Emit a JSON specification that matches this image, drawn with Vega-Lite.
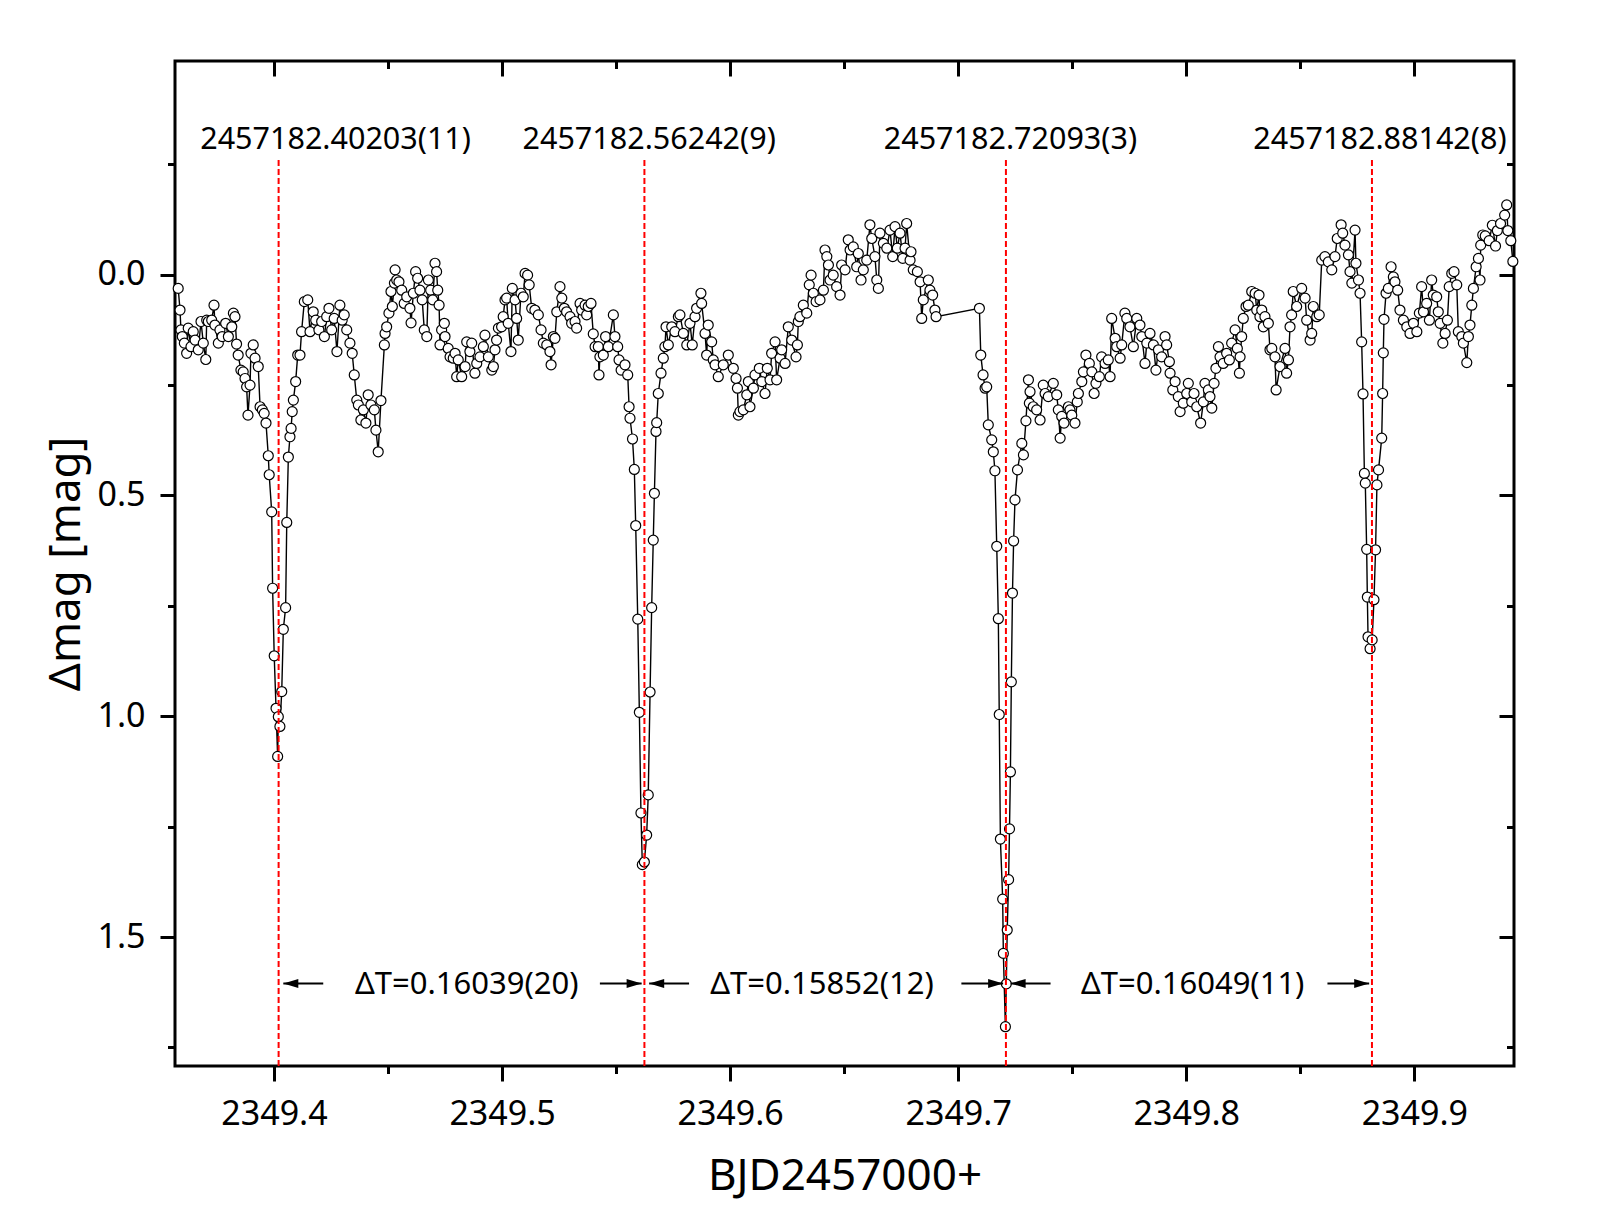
{
"$schema":"https://vega.github.io/schema/vega-lite/v6.json",
"width":1339,"height":1005,
"autosize":"none",
"padding":{"left":175,"top":61,"right":94,"bottom":164},
"background":"white",
"config":{"view":{"stroke":"black","strokeWidth":3},"font":"Noto Sans",
 "axis":{"labelFont":"Noto Sans","titleFont":"Noto Sans","labelColor":"black","titleColor":"black","tickColor":"black","tickWidth":3,"domain":false,"grid":false,"titleFontWeight":"normal","labelFontSize":34,"titleFontSize":44,"labelFlush":false,"labelOverlap":false}},
"resolve":{"axis":{"x":"independent","y":"independent"}},
"datasets":{
"lc":[
{"t":2349.358,"m":0.031},{"t":2349.3588,"m":0.08},{"t":2349.3592,"m":0.125},{"t":2349.3598,"m":0.14},{"t":2349.3607,"m":0.155},{"t":2349.3617,"m":0.178},{"t":2349.3624,"m":0.121},{"t":2349.3636,"m":0.163},{"t":2349.3646,"m":0.129},{"t":2349.3654,"m":0.148},
{"t":2349.3668,"m":0.17},{"t":2349.368,"m":0.106},{"t":2349.369,"m":0.155},{"t":2349.3701,"m":0.192},{"t":2349.3705,"m":0.103},{"t":2349.3712,"m":0.106},{"t":2349.3727,"m":0.103},{"t":2349.3737,"m":0.069},{"t":2349.3741,"m":0.114},{"t":2349.3756,"m":0.155},
{"t":2349.3763,"m":0.125},{"t":2349.3773,"m":0.14},{"t":2349.3788,"m":0.11},{"t":2349.38,"m":0.14},{"t":2349.3815,"m":0.118},{"t":2349.3822,"m":0.087},{"t":2349.3829,"m":0.095},{"t":2349.3836,"m":0.157},{"t":2349.3843,"m":0.182},{"t":2349.3855,"m":0.216},
{"t":2349.3865,"m":0.22},{"t":2349.3873,"m":0.235},{"t":2349.388,"m":0.254},{"t":2349.3886,"m":0.318},{"t":2349.3895,"m":0.25},{"t":2349.3899,"m":0.178},{"t":2349.3909,"m":0.159},{"t":2349.3917,"m":0.189},{"t":2349.3931,"m":0.208},{"t":2349.3939,"m":0.299},
{"t":2349.3949,"m":0.306},{"t":2349.3957,"m":0.314},{"t":2349.3965,"m":0.336},{"t":2349.3975,"m":0.41},{"t":2349.3979,"m":0.453},{"t":2349.399,"m":0.537},{"t":2349.3994,"m":0.71},{"t":2349.4001,"m":0.863},{"t":2349.4009,"m":0.982},{"t":2349.4016,"m":1.091},
{"t":2349.4019,"m":1.001},{"t":2349.4026,"m":1.023},{"t":2349.4034,"m":0.944},{"t":2349.4041,"m":0.803},{"t":2349.4051,"m":0.754},{"t":2349.4056,"m":0.561},{"t":2349.4063,"m":0.413},{"t":2349.407,"m":0.367},{"t":2349.4075,"m":0.348},{"t":2349.408,"m":0.31},
{"t":2349.4085,"m":0.284},{"t":2349.4095,"m":0.242},{"t":2349.4104,"m":0.182},{"t":2349.4114,"m":0.182},{"t":2349.4121,"m":0.129},{"t":2349.4133,"m":0.061},{"t":2349.4148,"m":0.057},{"t":2349.4158,"m":0.129},{"t":2349.4172,"m":0.084},{"t":2349.4183,"m":0.103},
{"t":2349.4197,"m":0.125},{"t":2349.4209,"m":0.106},{"t":2349.4221,"m":0.14},{"t":2349.4231,"m":0.095},{"t":2349.4241,"m":0.076},{"t":2349.4253,"m":0.125},{"t":2349.4264,"m":0.099},{"t":2349.4276,"m":0.174},{"t":2349.4289,"m":0.069},{"t":2349.4299,"m":0.103},
{"t":2349.4308,"m":0.091},{"t":2349.4319,"m":0.125},{"t":2349.4333,"m":0.155},{"t":2349.4343,"m":0.178},{"t":2349.4352,"m":0.227},{"t":2349.4363,"m":0.284},{"t":2349.437,"m":0.295},{"t":2349.4381,"m":0.329},{"t":2349.4392,"m":0.306},{"t":2349.4403,"m":0.336},
{"t":2349.4413,"m":0.272},{"t":2349.4425,"m":0.295},{"t":2349.444,"m":0.306},{"t":2349.4447,"m":0.352},{"t":2349.4457,"m":0.401},{"t":2349.4469,"m":0.285},{"t":2349.4484,"m":0.159},{"t":2349.4487,"m":0.133},{"t":2349.4494,"m":0.118},{"t":2349.4504,"m":0.087},
{"t":2349.4513,"m":0.038},{"t":2349.4519,"m":0.072},{"t":2349.4528,"m":0.019},{"t":2349.4531,"m":-0.011},{"t":2349.4538,"m":0.012},{"t":2349.4548,"m":0.016},{"t":2349.456,"m":0.035},{"t":2349.4571,"m":0.065},{"t":2349.4582,"m":0.05},{"t":2349.4596,"m":0.076},
{"t":2349.4601,"m":0.109},{"t":2349.4611,"m":0.042},{"t":2349.4621,"m":-0.007},{"t":2349.463,"m":0.008},{"t":2349.464,"m":0.035},{"t":2349.465,"m":0.057},{"t":2349.4659,"m":0.125},{"t":2349.467,"m":0.14},{"t":2349.4677,"m":0.012},{"t":2349.4687,"m":0.035},
{"t":2349.4696,"m":0.057},{"t":2349.4706,"m":-0.026},{"t":2349.4713,"m":-0.007},{"t":2349.4718,"m":0.035},{"t":2349.4724,"m":0.069},{"t":2349.4728,"m":0.159},{"t":2349.4735,"m":0.125},{"t":2349.4747,"m":0.11},{"t":2349.475,"m":0.14},{"t":2349.4764,"m":0.167},
{"t":2349.4772,"m":0.186},{"t":2349.4786,"m":0.189},{"t":2349.4794,"m":0.178},{"t":2349.4801,"m":0.231},{"t":2349.4808,"m":0.193},{"t":2349.4823,"m":0.231},{"t":2349.4838,"m":0.208},{"t":2349.4845,"m":0.152},{"t":2349.4859,"m":0.174},{"t":2349.4867,"m":0.155},
{"t":2349.4881,"m":0.223},{"t":2349.4889,"m":0.201},{"t":2349.4903,"m":0.186},{"t":2349.4918,"m":0.163},{"t":2349.4925,"m":0.137},{"t":2349.494,"m":0.186},{"t":2349.4955,"m":0.216},{"t":2349.4962,"m":0.208},{"t":2349.4969,"m":0.17},{"t":2349.4976,"m":0.148},
{"t":2349.4984,"m":0.121},{"t":2349.4998,"m":0.118},{"t":2349.5005,"m":0.095},{"t":2349.5013,"m":0.057},{"t":2349.502,"m":0.053},{"t":2349.5027,"m":0.11},{"t":2349.5039,"m":0.174},{"t":2349.5045,"m":0.031},{"t":2349.5057,"m":0.057},{"t":2349.5064,"m":0.099},
{"t":2349.5071,"m":0.148},{"t":2349.5083,"m":0.042},{"t":2349.5093,"m":0.05},{"t":2349.5101,"m":-0.003},{"t":2349.5112,"m":0.001},{"t":2349.5119,"m":0.023},{"t":2349.513,"m":0.076},{"t":2349.5144,"m":0.08},{"t":2349.5159,"m":0.091},{"t":2349.5171,"m":0.125},
{"t":2349.5181,"m":0.155},{"t":2349.5196,"m":0.159},{"t":2349.521,"m":0.174},{"t":2349.5215,"m":0.204},{"t":2349.5225,"m":0.14},{"t":2349.5232,"m":0.144},{"t":2349.524,"m":0.084},{"t":2349.5254,"m":0.027},{"t":2349.5262,"m":0.053},{"t":2349.5273,"m":0.076},
{"t":2349.5283,"m":0.084},{"t":2349.5298,"m":0.095},{"t":2349.5305,"m":0.11},{"t":2349.532,"m":0.106},{"t":2349.5327,"m":0.121},{"t":2349.5342,"m":0.065},{"t":2349.5349,"m":0.08},{"t":2349.5364,"m":0.069},{"t":2349.5371,"m":0.091},{"t":2349.5378,"m":0.072},
{"t":2349.539,"m":0.065},{"t":2349.54,"m":0.134},{"t":2349.5408,"m":0.163},{"t":2349.5422,"m":0.163},{"t":2349.5425,"m":0.227},{"t":2349.5429,"m":0.186},{"t":2349.5444,"m":0.182},{"t":2349.5454,"m":0.14},{"t":2349.5466,"m":0.163},{"t":2349.5488,"m":0.091},
{"t":2349.5495,"m":0.14},{"t":2349.5507,"m":0.163},{"t":2349.5513,"m":0.193},{"t":2349.5522,"m":0.216},{"t":2349.5539,"m":0.204},{"t":2349.5551,"m":0.227},{"t":2349.5557,"m":0.299},{"t":2349.5561,"m":0.325},{"t":2349.5572,"m":0.372},{"t":2349.558,"m":0.441},
{"t":2349.5586,"m":0.568},{"t":2349.5595,"m":0.78},{"t":2349.5602,"m":0.991},{"t":2349.5609,"m":1.219},{"t":2349.5615,"m":1.336},{"t":2349.5624,"m":1.33},{"t":2349.5634,"m":1.269},{"t":2349.5641,"m":1.178},{"t":2349.5649,"m":0.945},{"t":2349.5656,"m":0.754},
{"t":2349.5663,"m":0.601},{"t":2349.5668,"m":0.495},{"t":2349.5675,"m":0.355},{"t":2349.5678,"m":0.335},{"t":2349.5685,"m":0.269},{"t":2349.5697,"m":0.223},{"t":2349.5707,"m":0.189},{"t":2349.5714,"m":0.163},{"t":2349.5719,"m":0.118},{"t":2349.5729,"m":0.159},
{"t":2349.5744,"m":0.118},{"t":2349.5758,"m":0.129},{"t":2349.5773,"m":0.095},{"t":2349.578,"m":0.091},{"t":2349.5795,"m":0.133},{"t":2349.581,"m":0.159},{"t":2349.5824,"m":0.11},{"t":2349.5834,"m":0.159},{"t":2349.5846,"m":0.095},{"t":2349.5853,"m":0.076},
{"t":2349.5872,"m":0.042},{"t":2349.5875,"m":0.065},{"t":2349.589,"m":0.133},{"t":2349.5897,"m":0.182},{"t":2349.5904,"m":0.114},{"t":2349.5919,"m":0.152},{"t":2349.5926,"m":0.193},{"t":2349.5934,"m":0.204},{"t":2349.5948,"m":0.231},{"t":2349.597,"m":0.204},
{"t":2349.5992,"m":0.182},{"t":2349.6014,"m":0.212},{"t":2349.6026,"m":0.235},{"t":2349.6032,"m":0.257},{"t":2349.6036,"m":0.318},{"t":2349.6043,"m":0.31},{"t":2349.6058,"m":0.306},{"t":2349.6073,"m":0.272},{"t":2349.608,"m":0.242},{"t":2349.6087,"m":0.299},
{"t":2349.6102,"m":0.257},{"t":2349.6109,"m":0.227},{"t":2349.6128,"m":0.212},{"t":2349.6139,"m":0.242},{"t":2349.6153,"m":0.269},{"t":2349.6163,"m":0.212},{"t":2349.6175,"m":0.238},{"t":2349.6182,"m":0.178},{"t":2349.6197,"m":0.152},{"t":2349.6204,"m":0.238},
{"t":2349.6219,"m":0.189},{"t":2349.6226,"m":0.17},{"t":2349.6241,"m":0.201},{"t":2349.6255,"m":0.118},{"t":2349.627,"m":0.148},{"t":2349.6289,"m":0.186},{"t":2349.6295,"m":0.159},{"t":2349.6299,"m":0.106},{"t":2349.6306,"m":0.095},{"t":2349.6321,"m":0.069},
{"t":2349.6336,"m":0.087},{"t":2349.6347,"m":0.023},{"t":2349.6355,"m":0.001},{"t":2349.6365,"m":0.042},{"t":2349.6377,"m":0.061},{"t":2349.6394,"m":0.057},{"t":2349.6409,"m":0.035},{"t":2349.6416,"m":-0.056},{"t":2349.6424,"m":-0.041},{"t":2349.6431,"m":-0.022},
{"t":2349.6438,"m":0.012},{"t":2349.6452,"m":0.001},{"t":2349.6467,"m":0.027},{"t":2349.6482,"m":0.046},{"t":2349.6489,"m":-0.022},{"t":2349.6504,"m":-0.011},{"t":2349.6518,"m":-0.079},{"t":2349.6526,"m":-0.056},{"t":2349.654,"m":-0.063},{"t":2349.6555,"m":-0.018},
{"t":2349.6562,"m":-0.048},{"t":2349.6574,"m":0.012},{"t":2349.6584,"m":-0.011},{"t":2349.6599,"m":-0.033},{"t":2349.6613,"m":-0.113},{"t":2349.6621,"m":-0.082},{"t":2349.6635,"m":-0.041},{"t":2349.6643,"m":0.012},{"t":2349.665,"m":0.031},{"t":2349.6657,"m":-0.094},
{"t":2349.6672,"m":-0.071},{"t":2349.6687,"m":-0.06},{"t":2349.6701,"m":-0.101},{"t":2349.6713,"m":-0.041},{"t":2349.6723,"m":-0.109},{"t":2349.6733,"m":-0.06},{"t":2349.6745,"m":-0.094},{"t":2349.6757,"m":-0.037},{"t":2349.6767,"m":-0.06},{"t":2349.6774,"m":-0.116},
{"t":2349.6789,"m":-0.033},{"t":2349.6793,"m":-0.052},{"t":2349.6803,"m":-0.011},{"t":2349.6821,"m":-0.007},{"t":2349.6833,"m":0.016},{"t":2349.684,"m":0.099},{"t":2349.6847,"m":0.057},{"t":2349.6869,"m":0.012},{"t":2349.6876,"m":0.035},{"t":2349.6888,"m":0.046},
{"t":2349.6898,"m":0.08},{"t":2349.6903,"m":0.095},{"t":2349.7093,"m":0.076},{"t":2349.7099,"m":0.182},{"t":2349.7109,"m":0.227},{"t":2349.7118,"m":0.257},{"t":2349.7125,"m":0.254},{"t":2349.7132,"m":0.34},{"t":2349.7147,"m":0.374},{"t":2349.7154,"m":0.401},
{"t":2349.7161,"m":0.444},{"t":2349.7169,"m":0.615},{"t":2349.7176,"m":0.779},{"t":2349.718,"m":0.996},{"t":2349.7185,"m":1.278},{"t":2349.7195,"m":1.414},{"t":2349.7198,"m":1.537},{"t":2349.7207,"m":1.703},{"t":2349.7211,"m":1.606},{"t":2349.7215,"m":1.484},
{"t":2349.7221,"m":1.37},{"t":2349.7225,"m":1.255},{"t":2349.7229,"m":1.126},{"t":2349.7233,"m":0.922},{"t":2349.7238,"m":0.721},{"t":2349.7243,"m":0.603},{"t":2349.7249,"m":0.51},{"t":2349.726,"m":0.442},{"t":2349.7279,"m":0.382},{"t":2349.7286,"m":0.408},
{"t":2349.7297,"m":0.331},{"t":2349.7308,"m":0.238},{"t":2349.7312,"m":0.291},{"t":2349.7315,"m":0.265},{"t":2349.7329,"m":0.299},{"t":2349.7344,"m":0.306},{"t":2349.7359,"m":0.329},{"t":2349.7373,"m":0.25},{"t":2349.7381,"m":0.269},{"t":2349.7395,"m":0.276},
{"t":2349.7417,"m":0.246},{"t":2349.7432,"m":0.272},{"t":2349.7439,"m":0.306},{"t":2349.7447,"m":0.37},{"t":2349.7454,"m":0.321},{"t":2349.7464,"m":0.336},{"t":2349.7483,"m":0.299},{"t":2349.749,"m":0.306},{"t":2349.7498,"m":0.318},{"t":2349.7512,"m":0.336},
{"t":2349.7522,"m":0.288},{"t":2349.7527,"m":0.269},{"t":2349.7542,"m":0.242},{"t":2349.7549,"m":0.22},{"t":2349.756,"m":0.182},{"t":2349.7575,"m":0.201},{"t":2349.7586,"m":0.22},{"t":2349.7596,"m":0.269},{"t":2349.7604,"m":0.246},{"t":2349.7619,"m":0.231},
{"t":2349.7629,"m":0.186},{"t":2349.7644,"m":0.201},{"t":2349.7658,"m":0.193},{"t":2349.7666,"m":0.231},{"t":2349.7673,"m":0.099},{"t":2349.7688,"m":0.144},{"t":2349.7695,"m":0.163},{"t":2349.771,"m":0.189},{"t":2349.7717,"m":0.159},{"t":2349.7731,"m":0.087},
{"t":2349.7739,"m":0.099},{"t":2349.7753,"m":0.118},{"t":2349.7768,"m":0.163},{"t":2349.7783,"m":0.099},{"t":2349.7797,"m":0.114},{"t":2349.7805,"m":0.14},{"t":2349.7819,"m":0.201},{"t":2349.7827,"m":0.155},{"t":2349.7841,"m":0.133},{"t":2349.7856,"m":0.159},
{"t":2349.7867,"m":0.216},{"t":2349.7878,"m":0.17},{"t":2349.7892,"m":0.186},{"t":2349.7907,"m":0.14},{"t":2349.7914,"m":0.159},{"t":2349.7926,"m":0.197},{"t":2349.7929,"m":0.223},{"t":2349.7941,"m":0.261},{"t":2349.7951,"m":0.242},{"t":2349.7965,"m":0.276},
{"t":2349.7973,"m":0.31},{"t":2349.7987,"m":0.291},{"t":2349.8002,"m":0.269},{"t":2349.8009,"m":0.246},{"t":2349.8024,"m":0.288},{"t":2349.8034,"m":0.269},{"t":2349.8046,"m":0.299},{"t":2349.8063,"m":0.336},{"t":2349.8075,"m":0.288},{"t":2349.8082,"m":0.246},
{"t":2349.8097,"m":0.261},{"t":2349.8104,"m":0.276},{"t":2349.8112,"m":0.302},{"t":2349.8122,"m":0.246},{"t":2349.813,"m":0.212},{"t":2349.8141,"m":0.163},{"t":2349.8148,"m":0.186},{"t":2349.8162,"m":0.201},{"t":2349.8177,"m":0.178},{"t":2349.8189,"m":0.193},
{"t":2349.8199,"m":0.155},{"t":2349.8214,"m":0.125},{"t":2349.8224,"m":0.167},{"t":2349.8233,"m":0.223},{"t":2349.8236,"m":0.186},{"t":2349.8243,"m":0.14},{"t":2349.825,"m":0.099},{"t":2349.8262,"m":0.072},{"t":2349.8272,"m":0.069},{"t":2349.8287,"m":0.038},
{"t":2349.8302,"m":0.042},{"t":2349.8309,"m":0.08},{"t":2349.8319,"m":0.046},{"t":2349.8323,"m":0.095},{"t":2349.8331,"m":0.08},{"t":2349.8338,"m":0.118},{"t":2349.8345,"m":0.095},{"t":2349.836,"m":0.11},{"t":2349.8367,"m":0.17},{"t":2349.8375,"m":0.167},
{"t":2349.8389,"m":0.186},{"t":2349.8394,"m":0.261},{"t":2349.8411,"m":0.208},{"t":2349.8433,"m":0.167},{"t":2349.844,"m":0.223},{"t":2349.8448,"m":0.193},{"t":2349.8455,"m":0.118},{"t":2349.8462,"m":0.091},{"t":2349.8469,"m":0.038},{"t":2349.8484,"m":0.072},
{"t":2349.8506,"m":0.031},{"t":2349.8521,"m":0.053},{"t":2349.8528,"m":0.103},{"t":2349.8543,"m":0.148},{"t":2349.855,"m":0.133},{"t":2349.8557,"m":0.072},{"t":2349.8572,"m":0.095},{"t":2349.8583,"m":0.091},{"t":2349.8594,"m":-0.033},{"t":2349.8608,"m":-0.041},
{"t":2349.8623,"m":-0.029},{"t":2349.8638,"m":-0.011},{"t":2349.8652,"m":-0.041},{"t":2349.8662,"m":-0.082},{"t":2349.8679,"m":-0.113},{"t":2349.8686,"m":-0.094},{"t":2349.8696,"m":-0.067},{"t":2349.8711,"m":-0.045},{"t":2349.8718,"m":-0.007},{"t":2349.8726,"m":0.019},
{"t":2349.874,"m":-0.101},{"t":2349.8744,"m":-0.026},{"t":2349.8755,"m":0.012},{"t":2349.8762,"m":0.042},{"t":2349.8769,"m":0.152},{"t":2349.8775,"m":0.27},{"t":2349.8781,"m":0.45},{"t":2349.8785,"m":0.472},{"t":2349.8791,"m":0.622},{"t":2349.8794,"m":0.73},
{"t":2349.8797,"m":0.82},{"t":2349.8806,"m":0.847},{"t":2349.8815,"m":0.827},{"t":2349.8823,"m":0.736},{"t":2349.883,"m":0.623},{"t":2349.8836,"m":0.476},{"t":2349.8843,"m":0.442},{"t":2349.8857,"m":0.37},{"t":2349.8861,"m":0.269},{"t":2349.8864,"m":0.177},
{"t":2349.8867,"m":0.101},{"t":2349.8876,"m":0.042},{"t":2349.8886,"m":0.031},{"t":2349.8898,"m":-0.018},{"t":2349.8908,"m":0.005},{"t":2349.8915,"m":0.016},{"t":2349.8927,"m":0.035},{"t":2349.8937,"m":0.08},{"t":2349.8952,"m":0.103},{"t":2349.8967,"m":0.118},
{"t":2349.8981,"m":0.133},{"t":2349.8996,"m":0.11},{"t":2349.9011,"m":0.129},{"t":2349.9022,"m":0.087},{"t":2349.9032,"m":0.027},{"t":2349.904,"m":0.084},{"t":2349.9054,"m":0.065},{"t":2349.9066,"m":0.103},{"t":2349.9076,"m":0.012},{"t":2349.9083,"m":0.046},
{"t":2349.9098,"m":0.05},{"t":2349.9105,"m":0.084},{"t":2349.9113,"m":0.11},{"t":2349.9125,"m":0.155},{"t":2349.9135,"m":0.133},{"t":2349.9145,"m":0.103},{"t":2349.9153,"m":0.027},{"t":2349.9164,"m":-0.003},{"t":2349.9174,"m":-0.007},{"t":2349.9186,"m":0.023},
{"t":2349.9193,"m":0.129},{"t":2349.9208,"m":0.14},{"t":2349.9215,"m":0.155},{"t":2349.923,"m":0.199},{"t":2349.9237,"m":0.14},{"t":2349.9244,"m":0.114},{"t":2349.9252,"m":0.069},{"t":2349.9259,"m":0.031},{"t":2349.9271,"m":-0.018},{"t":2349.9281,"m":-0.037},
{"t":2349.9288,"m":0.012},{"t":2349.9291,"m":-0.067},{"t":2349.93,"m":-0.09},{"t":2349.9311,"m":-0.088},{"t":2349.9328,"m":-0.077},{"t":2349.9342,"m":-0.112},{"t":2349.9356,"m":-0.065},{"t":2349.9364,"m":-0.1},{"t":2349.9378,"m":-0.116},{"t":2349.9396,"m":-0.135},
{"t":2349.9405,"m":-0.158},{"t":2349.941,"m":-0.1},{"t":2349.9423,"m":-0.077},{"t":2349.9432,"m":-0.03}
],
"vlines":[{"t":2349.40203},{"t":2349.56242},{"t":2349.72093},{"t":2349.88142}],
"tlabels":[{"t":2349.427,"y":-0.284,"label":"2457182.40203(11)"},{"t":2349.5645,"y":-0.284,"label":"2457182.56242(9)"},{"t":2349.7229,"y":-0.284,"label":"2457182.72093(3)"},{"t":2349.8849,"y":-0.284,"label":"2457182.88142(8)"}],
"dlabels":[{"t":2349.4845,"y":1.628,"label":"ΔT=0.16039(20)"},{"t":2349.6403,"y":1.628,"label":"ΔT=0.15852(12)"},{"t":2349.8028,"y":1.628,"label":"ΔT=0.16049(11)"}],
"arrows":[{"side":"left","tip":2349.4041,"tail":2349.4216},{"side":"right","tip":2349.5612,"tail":2349.5429},{"side":"left","tip":2349.5645,"tail":2349.582},{"side":"right","tip":2349.7197,"tail":2349.7014},{"side":"left","tip":2349.723,"tail":2349.7405},{"side":"right","tip":2349.8802,"tail":2349.8619}]
},
"layer":[
{"data":{"name":"lc"},"mark":{"type":"line","color":"black","strokeWidth":1.4},
 "encoding":{
  "x":{"field":"t","type":"quantitative","scale":{"domain":[2349.3566,2349.9437],"nice":false,"zero":false},
   "axis":{"orient":"bottom","values":[2349.4,2349.5,2349.6,2349.7,2349.8,2349.9],"format":".1f","tickSize":15,"labelPadding":16,"title":"BJD2457000+","titleY":123,"titleBaseline":"alphabetic"}},
  "y":{"field":"m","type":"quantitative","scale":{"domain":[-0.484,1.792],"reverse":true,"nice":false,"zero":false},
   "axis":{"orient":"left","values":[0,0.5,1,1.5],"format":".1f","tickSize":15,"labelPadding":15,"title":"Δmag [mag]","titleX":-96,"titleBaseline":"alphabetic"}}}},
{"data":{"name":"lc"},"mark":{"type":"point","shape":"circle","filled":true,"fill":"white","stroke":"black","strokeWidth":1.2,"size":100,"opacity":1},
 "encoding":{
  "x":{"field":"t","type":"quantitative","scale":{"domain":[2349.3566,2349.9437],"nice":false,"zero":false},
   "axis":{"orient":"bottom","values":[2349.45,2349.55,2349.65,2349.75,2349.85],"tickSize":7.5,"labels":false,"title":null}},
  "y":{"field":"m","type":"quantitative","scale":{"domain":[-0.484,1.792],"reverse":true,"nice":false,"zero":false},
   "axis":{"orient":"left","values":[-0.25,0.25,0.75,1.25,1.75],"tickSize":7.5,"labels":false,"title":null}}}},
{"data":{"name":"vlines"},"mark":{"type":"rule","color":"#ff0000","strokeWidth":2,"strokeDash":[6,3]},
 "encoding":{
  "x":{"field":"t","type":"quantitative","scale":{"domain":[2349.3566,2349.9437],"nice":false,"zero":false},"axis":null},
  "y":{"datum":-0.26,"type":"quantitative","scale":{"domain":[-0.484,1.792],"reverse":true,"nice":false,"zero":false},"axis":null},
  "y2":{"datum":1.792}}},
{"data":{"name":"arrows"},"mark":{"type":"rule","color":"black","strokeWidth":2},
 "encoding":{
  "x":{"field":"tip","type":"quantitative","scale":{"domain":[2349.3566,2349.9437],"nice":false,"zero":false},"axis":null},
  "x2":{"field":"tail"},
  "y":{"datum":1.605,"type":"quantitative","scale":{"domain":[-0.484,1.792],"reverse":true,"nice":false,"zero":false},"axis":null}}},
{"data":{"name":"arrows"},"transform":[{"filter":"datum.side === 'left'"}],
 "mark":{"type":"point","shape":"M0,0L2,-0.6L2,0.6Z","filled":true,"color":"black","size":225,"opacity":1,"strokeWidth":0},
 "encoding":{
  "x":{"field":"tip","type":"quantitative","scale":{"domain":[2349.3566,2349.9437],"nice":false,"zero":false},"axis":null},
  "y":{"datum":1.605,"type":"quantitative","scale":{"domain":[-0.484,1.792],"reverse":true,"nice":false,"zero":false},"axis":null}}},
{"data":{"name":"arrows"},"transform":[{"filter":"datum.side === 'right'"}],
 "mark":{"type":"point","shape":"M0,0L-2,-0.6L-2,0.6Z","filled":true,"color":"black","size":225,"opacity":1,"strokeWidth":0},
 "encoding":{
  "x":{"field":"tip","type":"quantitative","scale":{"domain":[2349.3566,2349.9437],"nice":false,"zero":false},"axis":null},
  "y":{"datum":1.605,"type":"quantitative","scale":{"domain":[-0.484,1.792],"reverse":true,"nice":false,"zero":false},"axis":null}}},
{"data":{"name":"tlabels"},"mark":{"type":"text","font":"Noto Sans","fontSize":30.5,"color":"black","align":"center","baseline":"alphabetic"},
 "encoding":{
  "x":{"field":"t","type":"quantitative","scale":{"domain":[2349.3566,2349.9437],"nice":false,"zero":false},
   "axis":{"orient":"top","values":[2349.4,2349.5,2349.6,2349.7,2349.8,2349.9],"offset":-15,"tickSize":15,"labels":false,"title":null}},
  "y":{"field":"y","type":"quantitative","scale":{"domain":[-0.484,1.792],"reverse":true,"nice":false,"zero":false},
   "axis":{"orient":"right","values":[0,0.5,1,1.5],"offset":-15,"tickSize":15,"labels":false,"title":null}},
  "text":{"field":"label"}}},
{"data":{"name":"dlabels"},"mark":{"type":"text","font":"Noto Sans","fontSize":31,"color":"black","align":"center","baseline":"alphabetic"},
 "encoding":{
  "x":{"field":"t","type":"quantitative","scale":{"domain":[2349.3566,2349.9437],"nice":false,"zero":false},
   "axis":{"orient":"top","values":[2349.45,2349.55,2349.65,2349.75,2349.85],"offset":-7.5,"tickSize":7.5,"labels":false,"title":null}},
  "y":{"field":"y","type":"quantitative","scale":{"domain":[-0.484,1.792],"reverse":true,"nice":false,"zero":false},
   "axis":{"orient":"right","values":[-0.25,0.25,0.75,1.25,1.75],"offset":-7.5,"tickSize":7.5,"labels":false,"title":null}},
  "text":{"field":"label"}}}
]
}
